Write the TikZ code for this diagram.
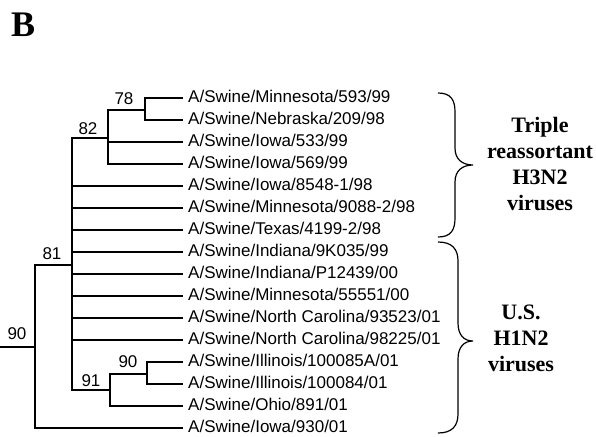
\documentclass[tikz,border=0pt]{standalone}
\usepackage{fontspec}
\newfontfamily\arialf{Liberation Sans}
\newfontfamily\timesf{Liberation Serif}
\begin{document}
\begin{tikzpicture}[x=1pt,y=-1pt,
  tree/.style={line width=1.2pt},
  leaf/.style={anchor=west,inner xsep=5pt,inner ysep=0pt,font=\arialf\fontsize{17}{20}\selectfont,text height=8pt,text depth=0pt},
  boot/.style={anchor=south,inner sep=0pt,font=\arialf\fontsize{17}{20}\selectfont,text height=12pt,text depth=0pt},
  group/.style={align=center,inner sep=0pt,font=\timesf\bfseries\fontsize{22}{26}\selectfont},
  brace/.style={line width=1.2pt}]
\useasboundingbox (0,0) rectangle (596,436);
\node[anchor=base west,inner sep=0pt,font=\timesf\bfseries\fontsize{36}{40}\selectfont] (B) at (11,37) {B};
% leaves
\foreach \i/\t in {1/A\slash Swine\slash Minnesota\slash 593\slash 99,
  2/A\slash Swine\slash Nebraska\slash 209\slash 98,
  3/A\slash Swine\slash Iowa\slash 533\slash 99,
  4/A\slash Swine\slash Iowa\slash 569\slash 99,
  5/A\slash Swine\slash Iowa\slash 8548-1\slash 98,
  6/A\slash Swine\slash Minnesota\slash 9088-2\slash 98,
  7/A\slash Swine\slash Texas\slash 4199-2\slash 98,
  8/A\slash Swine\slash Indiana\slash 9K035\slash 99,
  9/A\slash Swine\slash Indiana\slash P12439\slash 00,
  10/A\slash Swine\slash Minnesota\slash 55551\slash 00,
  11/A\slash Swine\slash North Carolina\slash 93523\slash 01,
  12/A\slash Swine\slash North Carolina\slash 98225\slash 01,
  13/A\slash Swine\slash Illinois\slash 100085A\slash 01,
  14/A\slash Swine\slash Illinois\slash 100084\slash 01,
  15/A\slash Swine\slash Ohio\slash 891\slash 01,
  16/A\slash Swine\slash Iowa\slash 930\slash 01}
  \node[leaf] (l\i) at (183,{98+22*(\i-1)}) {\t};
% internal nodes
\coordinate (n78) at (145,110);
\coordinate (n82) at (108,138);
\coordinate (n81) at (72,265);
\coordinate (n91) at (110,390);
\coordinate (n90b) at (147,374);
\coordinate (root) at (35,347);
\coordinate (start) at (0,347);
% edges
\draw[tree] (start) -- (root);
\draw[tree] (root) |- (n81);
\draw[tree] (root) |- (l16.west);
\draw[tree] (n81) |- (n82);
\draw[tree] (n81) |- (n91);
\foreach \i in {5,...,12} \draw[tree] (n81) |- (l\i.west);
\draw[tree] (n82) |- (n78);
\draw[tree] (n82) |- (l3.west);
\draw[tree] (n82) |- (l4.west);
\draw[tree] (n78) |- (l1.west);
\draw[tree] (n78) |- (l2.west);
\draw[tree] (n91) |- (n90b);
\draw[tree] (n91) |- (l15.west);
\draw[tree] (n90b) |- (l13.west);
\draw[tree] (n90b) |- (l14.west);
% bootstrap values
\node[boot] (b78) at (124,105) {78};
\node[boot] (b82) at (88,135) {82};
\node[boot] (b81) at (52,260) {81};
\node[boot] (b90r) at (17,340) {90};
\node[boot] (b90) at (128,368) {90};
\node[boot] (b91) at (91,387) {91};
% braces
\draw[brace] (438,93) .. controls (451,93) and (455,100) .. (455,112) -- (455,148)
  .. controls (455,159) and (462,165) .. (473,165)
  .. controls (462,165) and (455,171) .. (455,182) -- (455,218)
  .. controls (455,230) and (451,237) .. (438,237);
\draw[brace] (438,242) .. controls (452,242) and (458,249) .. (458,261) -- (458,323)
  .. controls (458,335) and (464,341) .. (473,341)
  .. controls (464,341) and (458,347) .. (458,359) -- (458,414)
  .. controls (458,426) and (452,433) .. (438,433);
% group labels
\node[group] (g1) at (540,164) {Triple\\reassortant\\H3N2\\viruses};
\node[group] (g2) at (521,338) {U.S.\\H1N2\\viruses};
\end{tikzpicture}
\end{document}
